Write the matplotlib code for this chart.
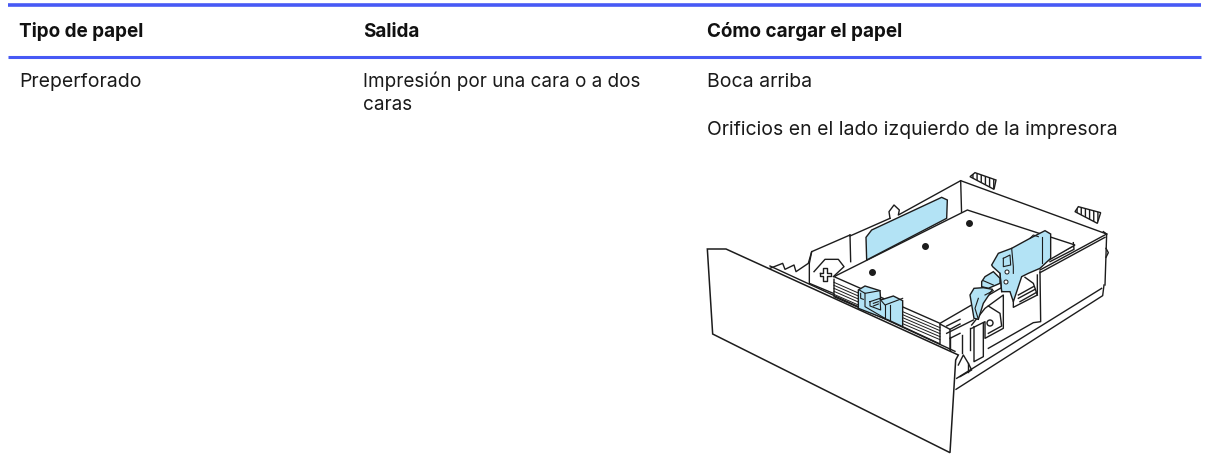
import numpy as np
import matplotlib
matplotlib.use("Agg")
import matplotlib.pyplot as plt
from matplotlib.patches import Polygon, Circle

# Textos de la tabla
headers = ["Tipo de papel", "Salida", "Cómo cargar el papel"]
header_x = [19, 363, 707]
col_1 = ["Preperforado"]
col_2 = ["Impresión por una cara o a dos", "caras"]
col_3 = ["Boca arriba", "Orificios en el lado izquierdo de la impresora"]

ORIG_A = (690, 160)
ORIG_R = (950, 220)
ORIG_L = (770, 230)
ORIG_C = (930, 320)
ORIG_D = (950, 280)

front_panel = [(52,267),(108,267),(805,585),(797,600),(780,878),(68,522)]
paper_top = [(432,350),(832,150),(1155,255),(750,490)]
lines_a = [
    [(600,175),(597,155),(612,135),(628,150),(625,165),(812,62),(1250,222)],
    [(812,62),(815,168)],
    [(240,318),(795,574)],
    [(480,228),(600,175)],
]
lines_r = [
    [(470,42),(270,150)],
    [(465,52),(270,158)],
    [(370,68),(372,88),(300,125)],
    [(370,78),(300,115)],
    [(460,35),(470,42),(465,195)],
    [(270,155),(272,305),(250,308),(115,385)],
    [(262,165),(262,225),(190,262),(190,245)],
    [(225,172),(250,190),(262,225)],
    [(205,225),(250,200)],
    [(205,235),(255,208)],
    [(210,245),(258,218)],
    [(65,315),(105,265),(160,225),(160,325),(105,355),(105,305),(65,325)],
    [(115,258),(150,280),(155,318),(115,340)],
    [(468,85),(475,98),(468,112)],
    [(60,325),(60,390)],
]
lines_l = [
    [(0,115),(38,100),(45,118),(72,105),(78,125),(115,100),(125,65),(240,15)],
    [(125,65),(118,100),(118,160),(190,190)],
    [(132,125),(165,88),(205,88),(222,110),(190,140)],
    [(240,15),(242,95)],
    [(192,148),(192,200),(265,232)],
    [(398,290),(510,342),(510,282)],
    [(510,282),(540,298),(540,358)],
    [(540,298),(570,282)],
    [(540,325),(570,310)],
    [(530,288),(570,268)],
    [(150,128),(160,128),(160,115),(172,115),(172,128),(184,128),(184,138),(172,138),(172,152),(160,152),(160,138),(150,138),(150,128)],
]
lines_c = [
    [(60,50),(60,95)],
    [(50,40),(130,0)],
    [(95,45),(95,100)],
    [(132,20),(132,125),(160,110),(160,10)],
    [(85,135),(100,105),(115,130),(125,150),(90,170)],
    [(115,130),(115,155)],
]
lines_d = [
    [(18,328),(458,47),(462,15)],
    [(20,295),(455,25)],
]
blue_a = [[(528,232),(545,210),(755,112),(772,120),(770,175),(530,300)]]
blue_r = [
    [(95,185),(105,170),(130,155),(150,175),(150,190),(115,205),(95,200)],
    [(125,135),(145,100),(185,85),(240,55),(285,32),(302,42),(302,115),(270,145),(235,160),(215,170),(190,245),(180,215),(155,215),(150,160),(128,140)],
    [(60,225),(72,205),(100,203),(128,208),(100,250),(85,298),(72,295)],
]
blue_l = [[(265,180),(285,168),(330,182),(332,210),(370,198),(398,212),(398,290),(355,270),(265,235)]]
details_r = [
    [(185,85),(190,140),(190,160)],
    [(160,115),(180,105),(182,135),(160,140),(160,115)],
    [(240,55),(250,45),(265,50)],
    [(275,50),(275,130)],
    [(150,160),(155,215)],
    [(105,225),(130,212)],
    [(100,182),(130,195)],
    [(85,235),(75,265),(85,298)],
]
details_l = [
    [(268,180),(285,190),(330,182)],
    [(285,190),(285,230),(345,265)],
    [(300,215),(330,205),(332,240),(300,228),(300,215)],
    [(332,210),(345,225),(398,205)],
    [(345,225),(345,265)],
    [(360,225),(360,272)],
    [(310,220),(325,215)],
    [(310,228),(325,222)],
    [(272,190),(272,205),(280,208)],
]
clip_1 = [(840,50),(855,38),(918,60),(912,88)]
clip_2 = [(1155,155),(1165,140),(1232,158),(1222,190)]
holes = [(838,189),(706,258),(545,336)]
bracket_hole = (990, 323)
guide_holes = [(1007, 272), (1006, 282)]
stack_count = 6


def to_px(points, orig=ORIG_A):
    pts = np.array(points, dtype=float)
    pts[:, 0] = orig[0] + pts[:, 0] / 3
    pts[:, 1] = orig[1] + pts[:, 1] / 3
    return pts


plt.rcParams["font.family"] = ["Inter", "DejaVu Sans"]
fig = plt.figure(figsize=(12.09, 4.65), dpi=100)
ax = fig.add_axes([0, 0, 1, 1])
ax.set_xlim(0, 1209)
ax.set_ylim(465, 0)
ax.axis("off")

# Reglas azules
blue = "#4759f5"
ax.plot([8, 1201], [5.5, 5.5], color=blue, lw=2.6, solid_capstyle="butt")
ax.plot([8, 1201], [57.5, 57.5], color=blue, lw=2.2, solid_capstyle="butt")

for x, h in zip(header_x, headers):
    ax.text(x, 37, h, fontsize=13.6, fontweight="bold", color="#111111", va="baseline")

text_c = "#1a1a1a"
ax.text(19, 87, col_1[0], fontsize=14, color=text_c, va="baseline")
ax.text(363, 87, col_2[0], fontsize=13.6, color=text_c, va="baseline")
ax.text(363, 110, col_2[1], fontsize=13.6, color=text_c, va="baseline")
ax.text(707, 87, col_3[0], fontsize=14, color=text_c, va="baseline")
ax.text(707, 135, col_3[1], fontsize=14, color=text_c, va="baseline")

# Bandeja
line = "#1c1c1c"
lw = 1.0
for group, orig in [(lines_a, ORIG_A), (lines_r, ORIG_R), (lines_l, ORIG_L), (lines_c, ORIG_C), (lines_d, ORIG_D)]:
    for pts in group:
        p = to_px(pts, orig)
        ax.plot(p[:, 0], p[:, 1], color=line, lw=lw, zorder=1.5)

ax.add_patch(Polygon(to_px(paper_top), closed=True, fc="white", ec=line, lw=lw, zorder=2))
ax.add_patch(Polygon(to_px(front_panel), closed=True, fc="white", ec=line, lw=1.1, zorder=5))

# Hojas apiladas
for k in range(1, stack_count):
    p = to_px([(192, 148 + k * 9), (265, 180 + k * 9)], ORIG_L)
    ax.plot(p[:, 0], p[:, 1], color=line, lw=0.7, zorder=1.5)
    p = to_px([(398, 236 + k * 9), (510, 284 + k * 9)], ORIG_L)
    ax.plot(p[:, 0], p[:, 1], color=line, lw=0.7, zorder=1.5)

for group, orig in [(blue_a, ORIG_A), (blue_r, ORIG_R), (blue_l, ORIG_L)]:
    for pts in group:
        ax.add_patch(Polygon(to_px(pts, orig), closed=True, fc="#b3e3f5", ec=line, lw=lw, zorder=3))
for group, orig in [(details_r, ORIG_R), (details_l, ORIG_L)]:
    for pts in group:
        p = to_px(pts, orig)
        ax.plot(p[:, 0], p[:, 1], color=line, lw=0.8, zorder=3.5)

for pts in [clip_1, clip_2]:
    ax.add_patch(Polygon(to_px(pts), closed=True, fc="white", ec=line, lw=1.0, hatch="||||", zorder=2))

h = to_px(holes)
ax.scatter(h[:, 0], h[:, 1], s=16, marker="o", color=line, zorder=4)
ax.add_patch(Circle(bracket_hole, 3, fc="white", ec=line, lw=1.0, zorder=4))
for c in guide_holes:
    ax.add_patch(Circle(c, 2, fc="white", ec=line, lw=0.7, zorder=4))

fig.savefig("out.png", dpi=100)
